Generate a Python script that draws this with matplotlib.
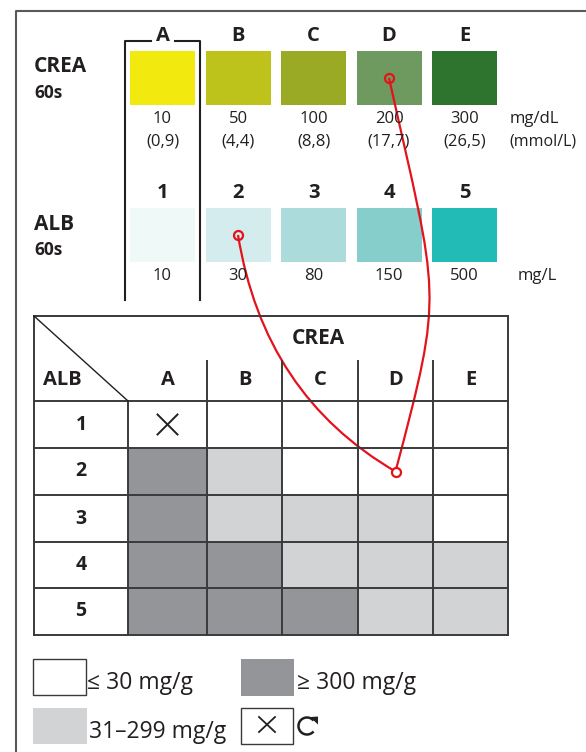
import matplotlib.pyplot as plt
import numpy as np
from matplotlib.path import Path
from matplotlib.patches import Rectangle, PathPatch, Polygon

plt.rcParams['font.family'] = ['Open Sans', 'DejaVu Sans']

# ---- data ----
crea_letters = ['A', 'B', 'C', 'D', 'E']
crea_colors = ['#f2e90f', '#bec31c', '#9aaa25', '#6f9a5f', '#2e742e']
crea_mgdl = ['10', '50', '100', '200', '300']
crea_mmol = ['(0,9)', '(4,4)', '(8,8)', '(17,7)', '(26,5)']

alb_levels = ['1', '2', '3', '4', '5']
alb_colors = ['#eff9f8', '#d4eced', '#abdcdb', '#85cecc', '#23bbb5']
alb_mgl = ['10', '30', '80', '150', '500']

# 0 = <=30, 1 = 31-299, 2 = >=300, -1 = repeat test (X)
category = [[-1, 0, 0, 0, 0],
            [2, 1, 0, 0, 0],
            [2, 1, 1, 1, 0],
            [2, 2, 1, 1, 1],
            [2, 2, 2, 1, 1]]
cat_colors = {0: 'white', 1: '#d1d3d4', 2: '#939598', -1: 'white'}
legend_labels = ['\u2264 30 mg/g', '31\u2013299 mg/g', '\u2265 300 mg/g']

example_crea = 'D'
example_alb = '2'

# ---- layout ----
ink = '#231f20'
red = '#e3131b'
fig = plt.figure(figsize=(5.86, 7.52), dpi=100)
ax = fig.add_axes([0, 0, 1, 1])
ax.set_xlim(0, 586)
ax.set_ylim(752, 0)
ax.axis('off')

# outer frame (top and left only visible)
ax.plot([16, 16, 586], [752, 11, 11], color='#58595b', lw=1.5, solid_capstyle='butt')

sw_x0, sw_step, sw_w = 130, 75.5, 65
crea_y, alb_y, sw_h = 51, 208, 54

ax.text(34, 66, 'CREA', fontsize=15, fontweight='bold', color=ink, va='center')
ax.text(34, 93, '60s', fontsize=12.5, fontweight='bold', color=ink, va='center')
ax.text(34, 225, 'ALB', fontsize=15, fontweight='bold', color=ink, va='center')
ax.text(34, 250, '60s', fontsize=12.5, fontweight='bold', color=ink, va='center')

for i in range(5):
    x = sw_x0 + i * sw_step
    cx = x + sw_w / 2
    ax.add_patch(Rectangle((x, crea_y), sw_w, sw_h, color=crea_colors[i], lw=0))
    ax.add_patch(Rectangle((x, alb_y), sw_w, sw_h, color=alb_colors[i], lw=0))
    ax.text(cx, 36, crea_letters[i], fontsize=14.5, fontweight='bold', color=ink, ha='center', va='center')
    ax.text(cx, 119, crea_mgdl[i], fontsize=12, color=ink, ha='center', va='center')
    ax.text(cx, 142, crea_mmol[i], fontsize=12, color=ink, ha='center', va='center')
    ax.text(cx, 193, alb_levels[i], fontsize=14.5, fontweight='bold', color=ink, ha='center', va='center')
    ax.text(cx, 276, alb_mgl[i], fontsize=12, color=ink, ha='center', va='center')

ax.text(510, 119, 'mg/dL', fontsize=12, color=ink, va='center')
ax.text(509, 142, '(mmol/L)', fontsize=11.5, color=ink, va='center')
ax.text(518, 276, 'mg/L', fontsize=12, color=ink, va='center')

# bracket around column A
ax.plot([151, 125, 125], [41, 41, 300], color=ink, lw=1.5)
ax.plot([175, 200, 200], [41, 41, 300], color=ink, lw=1.5)

# ---- table ----
col_edges = [34, 128, 207, 282, 358, 433, 508]
row_edges = [401, 448, 495, 542, 588, 635]
t_top, t_mid = 316, 361
line_kw = dict(color='#3a3a3c', lw=1.4)

for r in range(5):
    for c in range(5):
        k = category[r][c]
        ax.add_patch(Rectangle((col_edges[c + 1], row_edges[r]),
                               col_edges[c + 2] - col_edges[c + 1],
                               row_edges[r + 1] - row_edges[r],
                               color=cat_colors[k], lw=0))
        if k == -1:
            cx = (col_edges[c + 1] + col_edges[c + 2]) / 2
            cy = (row_edges[r] + row_edges[r + 1]) / 2
            ax.plot([cx - 10, cx + 10], [cy - 10, cy + 10], color=ink, lw=1.4)
            ax.plot([cx - 10, cx + 10], [cy + 10, cy - 10], color=ink, lw=1.4)

# grid lines
ax.plot([col_edges[0], col_edges[-1]], [t_top, t_top], **line_kw)
for y in row_edges:
    ax.plot([col_edges[0], col_edges[-1]], [y, y], **line_kw)
ax.plot([col_edges[0], col_edges[0]], [t_top, row_edges[-1]], **line_kw)
ax.plot([col_edges[-1], col_edges[-1]], [t_top, row_edges[-1]], **line_kw)
ax.plot([col_edges[1], col_edges[1]], [row_edges[0], row_edges[-1]], **line_kw)
for x in col_edges[2:-1]:
    ax.plot([x, x], [t_mid, row_edges[-1]], **line_kw)
ax.plot([col_edges[0], col_edges[1]], [t_top, row_edges[0]], color=ink, lw=1.0)

ax.text((col_edges[1] + col_edges[-1]) / 2, 339, 'CREA', fontsize=15, fontweight='bold',
        color=ink, ha='center', va='center')
ax.text(43, 380, 'ALB', fontsize=14.5, fontweight='bold', color=ink, va='center')
for c in range(5):
    ax.text((col_edges[c + 1] + col_edges[c + 2]) / 2, 380, crea_letters[c], fontsize=14.5,
            fontweight='bold', color=ink, ha='center', va='center')
for r in range(5):
    ax.text((col_edges[0] + col_edges[1]) / 2, (row_edges[r] + row_edges[r + 1]) / 2,
            alb_levels[r], fontsize=14, fontweight='bold', color=ink, ha='center', va='center')

# ---- example reading (red curves) ----
ci = crea_letters.index(example_crea)
ai = alb_levels.index(example_alb)
p_crea = (sw_x0 + ci * sw_step + sw_w / 2, crea_y + 27)
p_alb = (sw_x0 + ai * sw_step + sw_w / 2, alb_y + 27)
p_cell = ((col_edges[ci + 1] + col_edges[ci + 2]) / 2, (row_edges[ai] + row_edges[ai + 1]) / 2)

verts1 = [p_crea, (p_crea[0] + 50, p_crea[1] + 224), (p_cell[0] + 49, p_cell[1] - 185), p_cell]
ax.add_patch(PathPatch(Path(verts1, [Path.MOVETO, Path.CURVE4, Path.CURVE4, Path.CURVE4]),
                       fc='none', ec=red, lw=1.6))
verts2 = [p_alb, (264, 395), p_cell]
ax.add_patch(PathPatch(Path(verts2, [Path.MOVETO, Path.CURVE3, Path.CURVE3]),
                       fc='none', ec=red, lw=1.6))
for p in [p_crea, p_alb]:
    ax.plot(*p, 'o', ms=6.5, mfc='none', mec=red, mew=1.6)
ax.plot(*p_cell, 'o', ms=6.5, mfc='white', mec=red, mew=1.6)

# ---- legend ----
ax.add_patch(Rectangle((33, 659), 53, 36, fc='white', ec='#3a3a3c', lw=1.0))
ax.text(87, 683, legend_labels[0], fontsize=16.5, color=ink, va='center')
ax.add_patch(Rectangle((33, 708), 54, 36, color=cat_colors[1], lw=0))
ax.text(89, 732, legend_labels[1], fontsize=16.5, color=ink, va='center')
ax.add_patch(Rectangle((241, 659), 53, 37, color=cat_colors[2], lw=0))
ax.text(297, 683, legend_labels[2], fontsize=16.5, color=ink, va='center')
ax.add_patch(Rectangle((241, 708), 52, 36, fc='white', ec='#3a3a3c', lw=1.0))
ax.plot([259, 275], [717, 732], color=ink, lw=1.3)
ax.plot([259, 275], [732, 717], color=ink, lw=1.3)

# repeat symbol: open circle arrow
rc_x, rc_y, rr = 307, 726, 8.5
th = np.radians(np.linspace(40, 320, 60))
ax.plot(rc_x + rr * np.cos(th), rc_y - rr * np.sin(th), color=ink, lw=1.8, solid_capstyle='butt')
t0 = np.radians(40)
tip = (rc_x + rr * np.cos(t0) + 4.5, rc_y - rr * np.sin(t0) + 4)
base_c = (rc_x + rr * np.cos(t0), rc_y - rr * np.sin(t0))
ax.add_patch(Polygon([(base_c[0] - 3.5, base_c[1] - 3.5), (base_c[0] + 4.5, base_c[1] - 4), tip],
                     closed=True, color=ink, lw=0))

fig.savefig('out.png', dpi=100)
